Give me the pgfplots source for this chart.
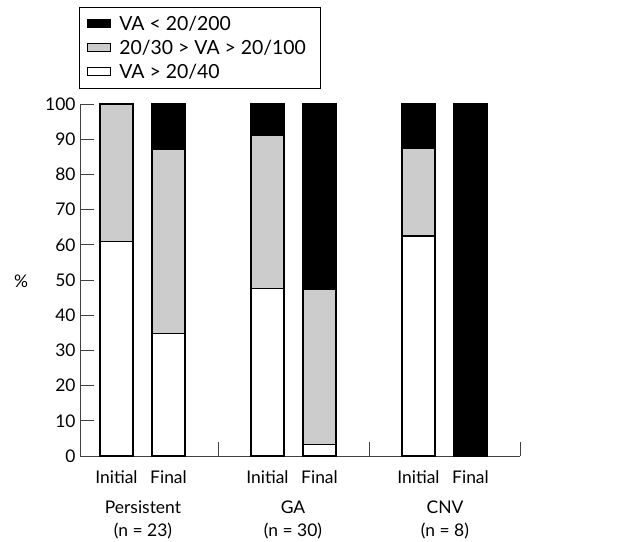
\documentclass[border=0pt]{standalone}
\usepackage{pgfplots}
\pgfplotsset{compat=1.18}
\usepackage{fontspec}
\setmainfont{Lato}
\newcommand\lab{\fontsize{17.5}{19}\selectfont}
\begin{document}
\begin{tikzpicture}
\useasboundingbox (0,0) rectangle (621bp,542bp);
\begin{axis}[
    at={(80bp,86bp)}, anchor=south west,
    scale only axis, width=440bp, height=352bp,
    ybar stacked, bar width=33bp,
    xmin=80, xmax=520, ymin=0, ymax=100,
    axis x line*=bottom, axis y line*=left,
    axis line style={black!75, line width=0.9bp},
    xtick={218,369,520}, xticklabels={},
    ytick={0,10,...,100},
    tick align=inside, major tick length=14bp,
    tick style={black!75, line width=0.9bp},
    /pgf/number format/assume math mode=true,
    ticklabel style={font=\lab},
    yticklabel style={xshift=-1bp},
    clip=false,
    reverse legend,
    legend style={at={(rel axis cs:-0.002,1.2756)}, anchor=north west,
        draw=black, line width=0.9bp, font=\fontsize{19.5}{21}\selectfont,
        row sep=4bp, inner xsep=7bp, inner ysep=7bp,
        nodes={inner xsep=9bp}},
    legend cell align=left,
    legend image code/.code={\draw[#1, line width=0.8bp] (0bp,-3bp) rectangle (23bp,4.5bp);},
    every axis plot/.append style={draw=black, line width=1.1bp},
]
\addplot[fill=white] coordinates {(116.5,60.9) (168.5,34.8) (267.5,47.7) (319.5,3.3) (418.5,62.5) (470.5,0)};
\addplot[fill=black!20] coordinates {(116.5,39.1) (168.5,52.2) (267.5,43.3) (319.5,43.9) (418.5,25) (470.5,0)};
\addplot[fill=black] coordinates {(116.5,0) (168.5,13.0) (267.5,9.0) (319.5,52.8) (418.5,12.5) (470.5,100)};
\legend{VA > 20/40\rule[-15bp]{0pt}{1pt}, \makebox[185bp][l]{20/30 > VA > 20/100}, VA < 20/200}
\node[font=\lab] at (axis cs:116.5,-6.1) {Initial};
\node[font=\lab] at (axis cs:168.5,-6.1) {Final};
\node[font=\lab] at (axis cs:267.5,-6.1) {Initial};
\node[font=\lab] at (axis cs:319.5,-6.1) {Final};
\node[font=\lab] at (axis cs:418.5,-6.1) {Initial};
\node[font=\lab] at (axis cs:470.5,-6.1) {Final};
\node[font=\lab] at (axis cs:143,-14.6) {Persistent};
\node[font=\lab] at (axis cs:293,-14.6) {GA};
\node[font=\lab] at (axis cs:445,-14.6) {CNV};
\node[font=\lab] at (axis cs:143,-21.3) {(n = 23)};
\node[font=\lab] at (axis cs:293,-21.3) {(n = 30)};
\node[font=\lab] at (axis cs:445,-21.3) {(n = 8)};
\node[font=\lab] at (axis cs:21,49.5) {\%};
\end{axis}
\end{tikzpicture}
\end{document}
